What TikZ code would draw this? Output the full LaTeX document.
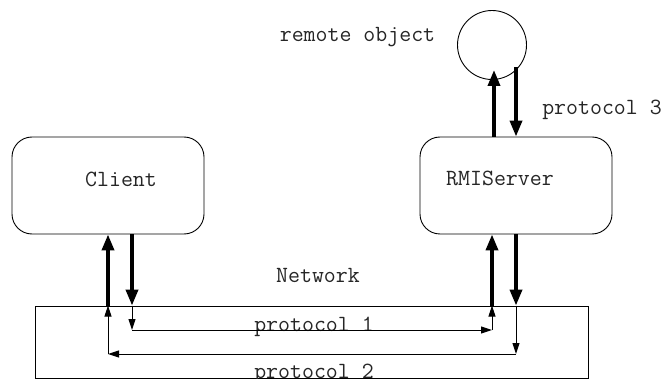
\documentclass[tikz,border=0pt]{standalone}
\usetikzlibrary{arrows.meta}
\begin{document}
\begin{tikzpicture}[x=1pt,y=-1pt,
  lbl/.style={font=\ttfamily\fontsize{23.2}{26}\selectfont, text=black!85, inner sep=0pt, anchor=base},
  host/.style={draw, line width=0.9pt, rounded corners=20pt, minimum width=192pt, minimum height=97pt, inner sep=0pt},
  thickarrow/.style={line width=3.6pt, -{Triangle[width=12pt,length=16pt]}},
  thinarrow/.style={line width=1pt, -{Triangle[width=7pt,length=11pt]}}]
\useasboundingbox (0,0) rectangle (666,379);
% boxes
\node[host] (client) at (108,185.5) {};
\node[host] (server) at (516,185.5) {};
\node[draw, line width=0.9pt, minimum width=553pt, minimum height=72pt, inner sep=0pt] (net) at (311.5,342) {};
\node[draw, line width=0.9pt, circle, minimum size=69pt, inner sep=0pt] (obj) at (492,45) {};
% labels
\node[lbl] (tclient) at (121,187) {Client};
\node[lbl] (tserver) at (500,186) {RMIServer};
\node[lbl] (tnet) at (318,282) {Network};
\node[lbl] (tobj) at (357.5,42) {remote object};
\node[lbl] (tp3) at (602,115) {protocol 3};
\node[lbl] (tp1) at (314,331) {protocol 1};
\node[lbl] (tp2) at (314,378) {protocol 2};
% coordinates
\coordinate (a1) at (132,330);
\coordinate (a2) at (492,330);
\coordinate (b1) at (516,354);
\coordinate (b2) at (108,354);
\coordinate (o1) at (494,70);
\coordinate (o2) at (516,67);
% thick arrows client
\draw[thickarrow] (net.north -| client.south) -- (client.south);
\draw[thickarrow] ([xshift=24pt]client.south) -- (net.north -| a1);
% thick arrows server
\draw[thickarrow] (net.north -| a2) -- (server.south -| a2);
\draw[thickarrow] (server.south) -- (net.north -| server.south);
% server to object
\draw[thickarrow] (server.north -| o1) -- (o1);
\draw[thickarrow] (o2) -- (server.north -| o2);
% protocol 1
\draw[thinarrow] (net.north -| a1) -- (a1);
\draw[thinarrow] (a1) -- (a2);
\draw[thinarrow] (a2) -- (net.north -| a2);
% protocol 2
\draw[thinarrow] (net.north -| b1) -- (b1);
\draw[thinarrow] (b1) -- (b2);
\draw[thinarrow] (b2) -- (net.north -| b2);
\end{tikzpicture}
\end{document}
